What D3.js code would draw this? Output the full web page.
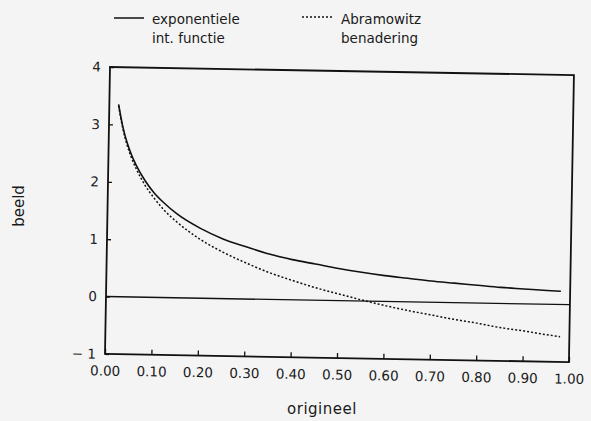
<!DOCTYPE html>
<html>
<head>
<meta charset="utf-8">
<script src="https://cdn.jsdelivr.net/npm/d3@7"></script>
<style>
  body { margin: 0; background: #f4f4f4; }
  svg { display: block; }
  text { font-family: "DejaVu Sans", sans-serif; fill: #1a1a1a; }
</style>
</head>
<body>
<div id="chart"></div>
<script>
// x values (origineel)
const xs = [0.02, 0.03, 0.04, 0.05, 0.06, 0.08, 0.10, 0.12, 0.15, 0.20, 0.25, 0.30, 0.35,
  0.40, 0.45, 0.50, 0.55, 0.60, 0.65, 0.70, 0.75, 0.80, 0.85, 0.90, 0.95, 0.98];
// exponentiele int. functie
const expInt = [3.35, 2.96, 2.68, 2.47, 2.30, 2.03, 1.82, 1.66, 1.46, 1.22, 1.04, 0.91, 0.79,
  0.70, 0.63, 0.56, 0.50, 0.45, 0.41, 0.37, 0.34, 0.31, 0.28, 0.26, 0.24, 0.23];
// Abramowitz benadering
const abram = [3.33, 2.93, 2.64, 2.42, 2.24, 1.95, 1.73, 1.54, 1.32, 1.03, 0.81, 0.63, 0.47,
  0.34, 0.22, 0.12, 0.02, -0.07, -0.15, -0.22, -0.29, -0.35, -0.42, -0.47, -0.53, -0.56];

const xTicks = [0, 0.1, 0.2, 0.3, 0.4, 0.5, 0.6, 0.7, 0.8, 0.9, 1.0];
const yTicks = [-1, 0, 1, 2, 3, 4];

const W = 591, H = 421;
const margin = {top: 67, left: 110},
    width = 464,
    height = 287;

const root = d3.select("#chart")
  .append("svg")
    .attr("width", W)
    .attr("height", H);

// the scanned plot is tilted about one degree
const svg = root.append("g")
    .attr("transform", `translate(${margin.left},${margin.top}) rotate(1)`);

const x = d3.scaleLinear().domain([0, 1]).range([0, width]);
const y = d3.scaleLinear().domain([-1, 4]).range([height, 0]);

// frame
svg.append("rect")
  .attr("x", 0).attr("y", 0)
  .attr("width", width).attr("height", height)
  .attr("fill", "none")
  .attr("stroke", "#111")
  .attr("stroke-width", 1.8);

// x ticks (inside, pointing up)
svg.append("g")
  .attr("transform", `translate(0,${height})`)
  .call(d3.axisBottom(x).tickValues(xTicks).tickSize(-5).tickPadding(12)
    .tickFormat(d3.format(".2f")))
  .call(g => g.select(".domain").remove())
  .call(g => g.selectAll("line").attr("stroke", "#111").attr("stroke-width", 1.3))
  .call(g => g.selectAll("text").style("font-size", "13.5px").attr("fill", "#1a1a1a"));

// y ticks (inside, pointing right)
svg.append("g")
  .call(d3.axisLeft(y).tickValues(yTicks).tickSize(-4).tickPadding(9)
    .tickFormat(d => d < 0 ? "\u2212 " + Math.abs(d) : d))
  .call(g => g.select(".domain").remove())
  .call(g => g.selectAll("line").attr("stroke", "#111").attr("stroke-width", 1.3))
  .call(g => g.selectAll("text").style("font-size", "13.5px").attr("fill", "#1a1a1a"));

// zero line
svg.append("line")
  .attr("x1", 0).attr("x2", width)
  .attr("y1", y(0)).attr("y2", y(0))
  .attr("stroke", "#111")
  .attr("stroke-width", 1.4);

const line = d3.line()
  .x((d, i) => x(xs[i]))
  .y(d => y(d))
  .curve(d3.curveMonotoneX);

svg.append("path")
  .datum(expInt)
  .attr("d", line)
  .attr("fill", "none")
  .attr("stroke", "#111")
  .attr("stroke-width", 1.6);

svg.append("path")
  .datum(abram)
  .attr("d", line)
  .attr("fill", "none")
  .attr("stroke", "#111")
  .attr("stroke-width", 1.5)
  .attr("stroke-dasharray", "2,2");

// axis titles
root.append("text")
  .attr("x", 322)
  .attr("y", 414)
  .attr("text-anchor", "middle")
  .style("font-size", "15px")
  .style("letter-spacing", "0.5px")
  .text("origineel");

root.append("text")
  .attr("transform", "translate(24,206) rotate(-90)")
  .attr("text-anchor", "middle")
  .style("font-size", "15px")
  .text("beeld");

// legend
const legend = root.append("g");
legend.append("line")
  .attr("x1", 114).attr("x2", 144).attr("y1", 18).attr("y2", 18)
  .attr("stroke", "#111").attr("stroke-width", 1.5);
legend.append("text").attr("x", 152).attr("y", 24).style("font-size", "13.5px").text("exponentiele");
legend.append("text").attr("x", 152).attr("y", 43).style("font-size", "13.5px").text("int.  functie");

legend.append("line")
  .attr("x1", 302).attr("x2", 333).attr("y1", 17).attr("y2", 17)
  .attr("stroke", "#111").attr("stroke-width", 1.5)
  .attr("stroke-dasharray", "2,2");
legend.append("text").attr("x", 341).attr("y", 24).style("font-size", "13.5px").text("Abramowitz");
legend.append("text").attr("x", 341).attr("y", 43).style("font-size", "13.5px").text("benadering");
</script>
</body>
</html>
